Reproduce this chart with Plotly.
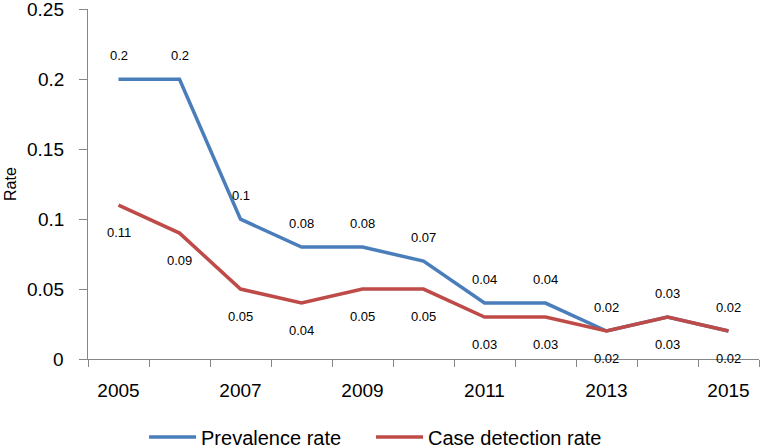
import plotly.graph_objects as go

years = [2005, 2006, 2007, 2008, 2009, 2010, 2011, 2012, 2013, 2014, 2015]
prevalence = [0.2, 0.2, 0.1, 0.08, 0.08, 0.07, 0.04, 0.04, 0.02, 0.03, 0.02]
case_detection = [0.11, 0.09, 0.05, 0.04, 0.05, 0.05, 0.03, 0.03, 0.02, 0.03, 0.02]
x_tick_vals = [2005, 2007, 2009, 2011, 2013, 2015]
y_tick_vals = [0, 0.05, 0.1, 0.15, 0.2, 0.25]
y_tick_text = ["0", "0.05", "0.1", "0.15", "0.2", "0.25"]

FONT = "Liberation Sans"
BLUE = "#4A7EBB"
RED = "#BE4B48"
AXIS = "#868686"

fig = go.Figure()
fig.add_trace(go.Scatter(x=years, y=prevalence, mode="lines", name="Prevalence rate",
                         line=dict(color=BLUE, width=3.5), legend="legend"))
fig.add_trace(go.Scatter(x=years, y=case_detection, mode="lines", name="Case detection rate",
                         line=dict(color=RED, width=3.5), legend="legend2"))

annotations = []
for x, v in zip(years, prevalence):
    annotations.append(dict(x=x, y=v, xref="x", yref="y", text=f"{v:g}", showarrow=False,
                            yshift=24, font=dict(family=FONT, size=13, color="#000")))
for x, v in zip(years, case_detection):
    annotations.append(dict(x=x, y=v, xref="x", yref="y", text=f"{v:g}", showarrow=False,
                            yshift=-27, font=dict(family=FONT, size=13, color="#000")))
# y tick labels (placed on the y scale, right-aligned left of the ticks)
for v, t in zip(y_tick_vals, y_tick_text):
    annotations.append(dict(x=0, y=v, xref="paper", yref="y", text=t, showarrow=False,
                            xanchor="right", yanchor="middle", xshift=-22,
                            font=dict(family=FONT, size=19, color="#000")))
# y axis title
annotations.append(dict(x=0, y=0.5, xref="paper", yref="paper", text="Rate", showarrow=False,
                        textangle=-90, xanchor="center", yanchor="middle", xshift=-78,
                        font=dict(family=FONT, size=16, color="#000")))

legend_style = dict(orientation="h", xanchor="left", y=-0.223, yanchor="middle",
                    font=dict(family=FONT, size=20), itemwidth=47,
                    bgcolor="rgba(0,0,0,0)")

fig.update_layout(
    width=760, height=445,
    margin=dict(l=88, r=1, t=9, b=86, autoexpand=False),
    paper_bgcolor="white", plot_bgcolor="white",
    font=dict(family=FONT, color="#000"),
    annotations=annotations,
    showlegend=True,
    legend=dict(x=0.0835, **legend_style),
    legend2=dict(x=0.4218, **legend_style),
    xaxis=dict(range=[2004.5, 2015.5], tickvals=x_tick_vals, automargin=False,
               ticks="outside", ticklen=0, tickcolor=AXIS,
               minor=dict(tick0=2004.5, dtick=1, ticks="outside", ticklen=7, tickcolor=AXIS,
                          tickwidth=1, showgrid=False),
               showline=True, linecolor=AXIS, linewidth=1, showgrid=False, zeroline=False,
               tickfont=dict(family=FONT, size=19), ticklabelstandoff=14,
               ticklabeloverflow="allow"),
    yaxis=dict(range=[0, 0.2502], tickvals=y_tick_vals, showticklabels=False, automargin=False,
               ticks="outside", ticklen=8, tickcolor=AXIS,
               showline=True, linecolor=AXIS, linewidth=1, showgrid=False, zeroline=False),
)

# remove the default 8px page margin so the figure fills the window exactly
fig.write_html("out.html", config={"displayModeBar": False},
               post_script="document.body.style.margin='0';document.body.style.overflow='hidden';")
